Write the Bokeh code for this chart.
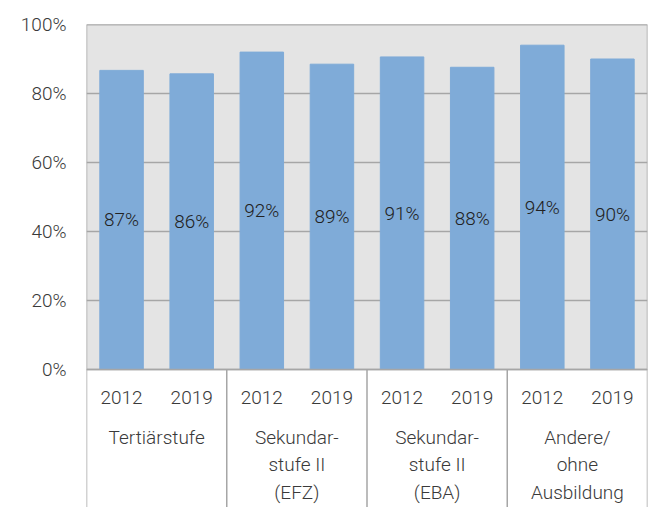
from bokeh.plotting import figure
from bokeh.models import Range1d, FixedTicker, NumeralTickFormatter, ColumnDataSource
from bokeh.embed import file_html
from bokeh.resources import INLINE
from bokeh.core.properties import value

# ---- data ----
groups = ["Tertiärstufe", "Sekundar-\nstufe II\n(EFZ)", "Sekundar-\nstufe II\n(EBA)", "Andere/\nohne\nAusbildung"]
years = ["2012", "2019"]
shares = [0.867, 0.857, 0.920, 0.885, 0.906, 0.876, 0.940, 0.900]
labels = ["87%", "86%", "92%", "89%", "91%", "88%", "94%", "90%"]
y_ticks = [0, 0.2, 0.4, 0.6, 0.8, 1.0]

FONT = "'Roboto Light', Roboto, sans-serif"
BAR = "#7fabd8"
GRID = "#a6a6a6"
TXT = "#3a3a3a"

n = len(shares)
xs = [i + 0.5 for i in range(n)]
bar_years = [years[i % len(years)] for i in range(n)]
src = ColumnDataSource(dict(x=xs, top=shares, mid=[s / 2 for s in shares], lab=labels, yr=bar_years))

W, H = 657, 507
TOP, PLOT_H = 24, 345          # plot area (0..100%) height in px
CAT_H = H - TOP - PLOT_H       # category band below
ymin = -CAT_H / PLOT_H

p = figure(width=W, height=H, x_range=Range1d(0, n), y_range=Range1d(ymin, 1),
           output_backend="svg", toolbar_location=None, x_axis_location=None,
           min_border_left=86, min_border_right=10, min_border_top=TOP, min_border_bottom=0)
p.extra_y_ranges = {"cat": Range1d(CAT_H, -PLOT_H)}
p.background_fill_color = "white"
p.border_fill_color = "white"
p.outline_line_color = None
p.xgrid.visible = False
p.ygrid.visible = False
p.yaxis.ticker = FixedTicker(ticks=y_ticks)
p.yaxis.formatter = NumeralTickFormatter(format="0%")
p.yaxis.axis_line_color = None
p.yaxis.major_tick_line_color = None
p.yaxis.minor_tick_line_color = None
p.yaxis.major_tick_out = 0
p.yaxis.major_label_standoff = 20
p.yaxis.major_label_text_font = FONT
p.yaxis.major_label_text_font_size = "19px"
p.yaxis.major_label_text_color = TXT

# plot area background, grid lines, bars, border
p.quad(left=0, right=n, bottom=0, top=1, fill_color="#e4e4e4", line_color=None)
p.segment(x0=[0] * len(y_ticks), y0=y_ticks, x1=[n] * len(y_ticks), y1=y_ticks,
          line_color=GRID, line_width=1.5)
p.vbar(x="x", top="top", width=0.62, source=src, fill_color=BAR, line_color=BAR)
p.quad(left=0, right=n, bottom=0, top=1, fill_color=None, line_color=GRID, line_width=1.5)
p.text(x="x", y="mid", text="lab", source=src, text_align="center", text_baseline="middle",
       text_font=value(FONT), text_font_size="19px", text_color="#222222")

# ---- category band ----
p.text(x="x", y=27.5, text="yr", source=src, text_align="center", text_baseline="middle",
       text_font=value(FONT), text_font_size="19px", text_color=TXT, y_range_name="cat")

ng = len(groups)
per = len(years)
gx = [per * g + per / 2 for g in range(ng)]
p.text(x=gx, y=[56] * ng, text=groups, text_align="center", text_baseline="top",
       text_font=value(FONT), text_font_size="19px", text_color=TXT, text_line_height=1.2,
       y_range_name="cat")

bounds = [per * g for g in range(ng + 1)]
p.segment(x0=bounds, y0=[0] * len(bounds), x1=bounds, y1=[CAT_H] * len(bounds),
          line_color=GRID, line_width=1.5, y_range_name="cat")

open("out.html", "w").write(file_html(p, INLINE))
